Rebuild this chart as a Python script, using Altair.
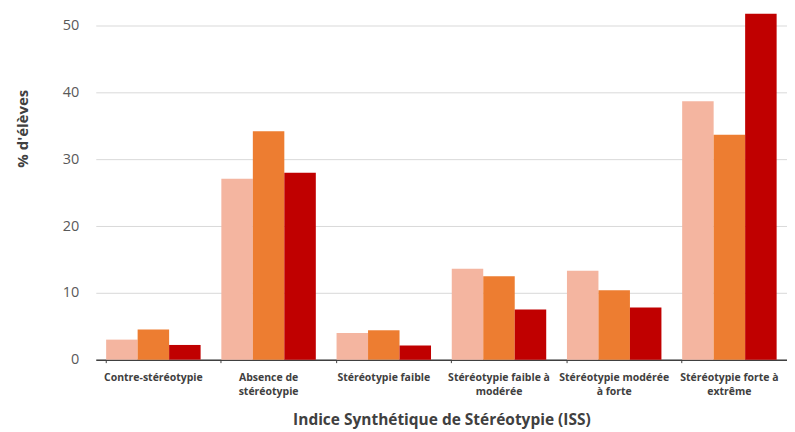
import altair as alt
import pandas as pd

categories = [
    "Contre-stéréotypie",
    "Absence de|stéréotypie",
    "Stéréotypie faible",
    "Stéréotypie faible à|modérée",
    "Stéréotypie modérée|à forte",
    "Stéréotypie forte à|extrême",
]
series = ["Série 1", "Série 2", "Série 3"]
values_s1 = [3.0, 27.1, 4.0, 13.6, 13.3, 38.7]
values_s2 = [4.5, 34.2, 4.4, 12.5, 10.4, 33.7]
values_s3 = [2.2, 28.0, 2.1, 7.5, 7.8, 51.8]
colors = ["#F4B5A0", "#ED7D31", "#C00000"]
y_ticks = [0, 10, 20, 30, 40, 50]

rows = []
for s, vals in zip(series, [values_s1, values_s2, values_s3]):
    for c, v in zip(categories, vals):
        rows.append({"cat": c, "serie": s, "val": v})
df = pd.DataFrame(rows)

FONT = "Open Sans"

chart = alt.Chart(df).mark_bar().encode(
    x=alt.X(
        "cat:N",
        sort=categories,
        scale=alt.Scale(paddingInner=0.18, paddingOuter=0.09),
        axis=alt.Axis(
            title="Indice Synthétique de Stéréotypie (ISS)",
            titleFont=FONT, titleFontSize=15.5, titleFontWeight="bold",
            titleColor="#404040", titlePadding=16,
            labelExpr="split(datum.label, '|')",
            labelAngle=0, labelFont=FONT, labelFontSize=10.5,
            labelFontWeight="bold", labelColor="#404040",
            labelPadding=10, labelLineHeight=14,
            domainColor="#404040", domainWidth=1.5,
            tickColor="#404040", tickSize=3, bandPosition=0,
            grid=False,
        ),
    ),
    xOffset=alt.XOffset("serie:N", sort=series),
    y=alt.Y(
        "val:Q",
        scale=alt.Scale(domain=[0, 52], nice=False),
        axis=alt.Axis(
            values=y_ticks,
            title="% d'élèves",
            titleFont=FONT, titleFontSize=15, titleFontWeight="bold",
            titleColor="#404040", titleX=-65, titleY=116,
            labelFont=FONT, labelFontSize=14.5, labelColor="#595959",
            labelPadding=17,
            domain=False, ticks=False,
            gridColor="#D9D9D9", gridWidth=1,
        ),
    ),
    color=alt.Color("serie:N", scale=alt.Scale(domain=series, range=colors), legend=None),
).properties(
    width=693, height=348,
    padding={"left": 88, "top": 4, "right": 0, "bottom": 72},
    autosize=alt.AutoSizeParams(type="none"),
).configure(background="white").configure_view(strokeWidth=0, stroke="transparent")

chart.save("out.html", embed_options={"renderer": "svg", "actions": False})
